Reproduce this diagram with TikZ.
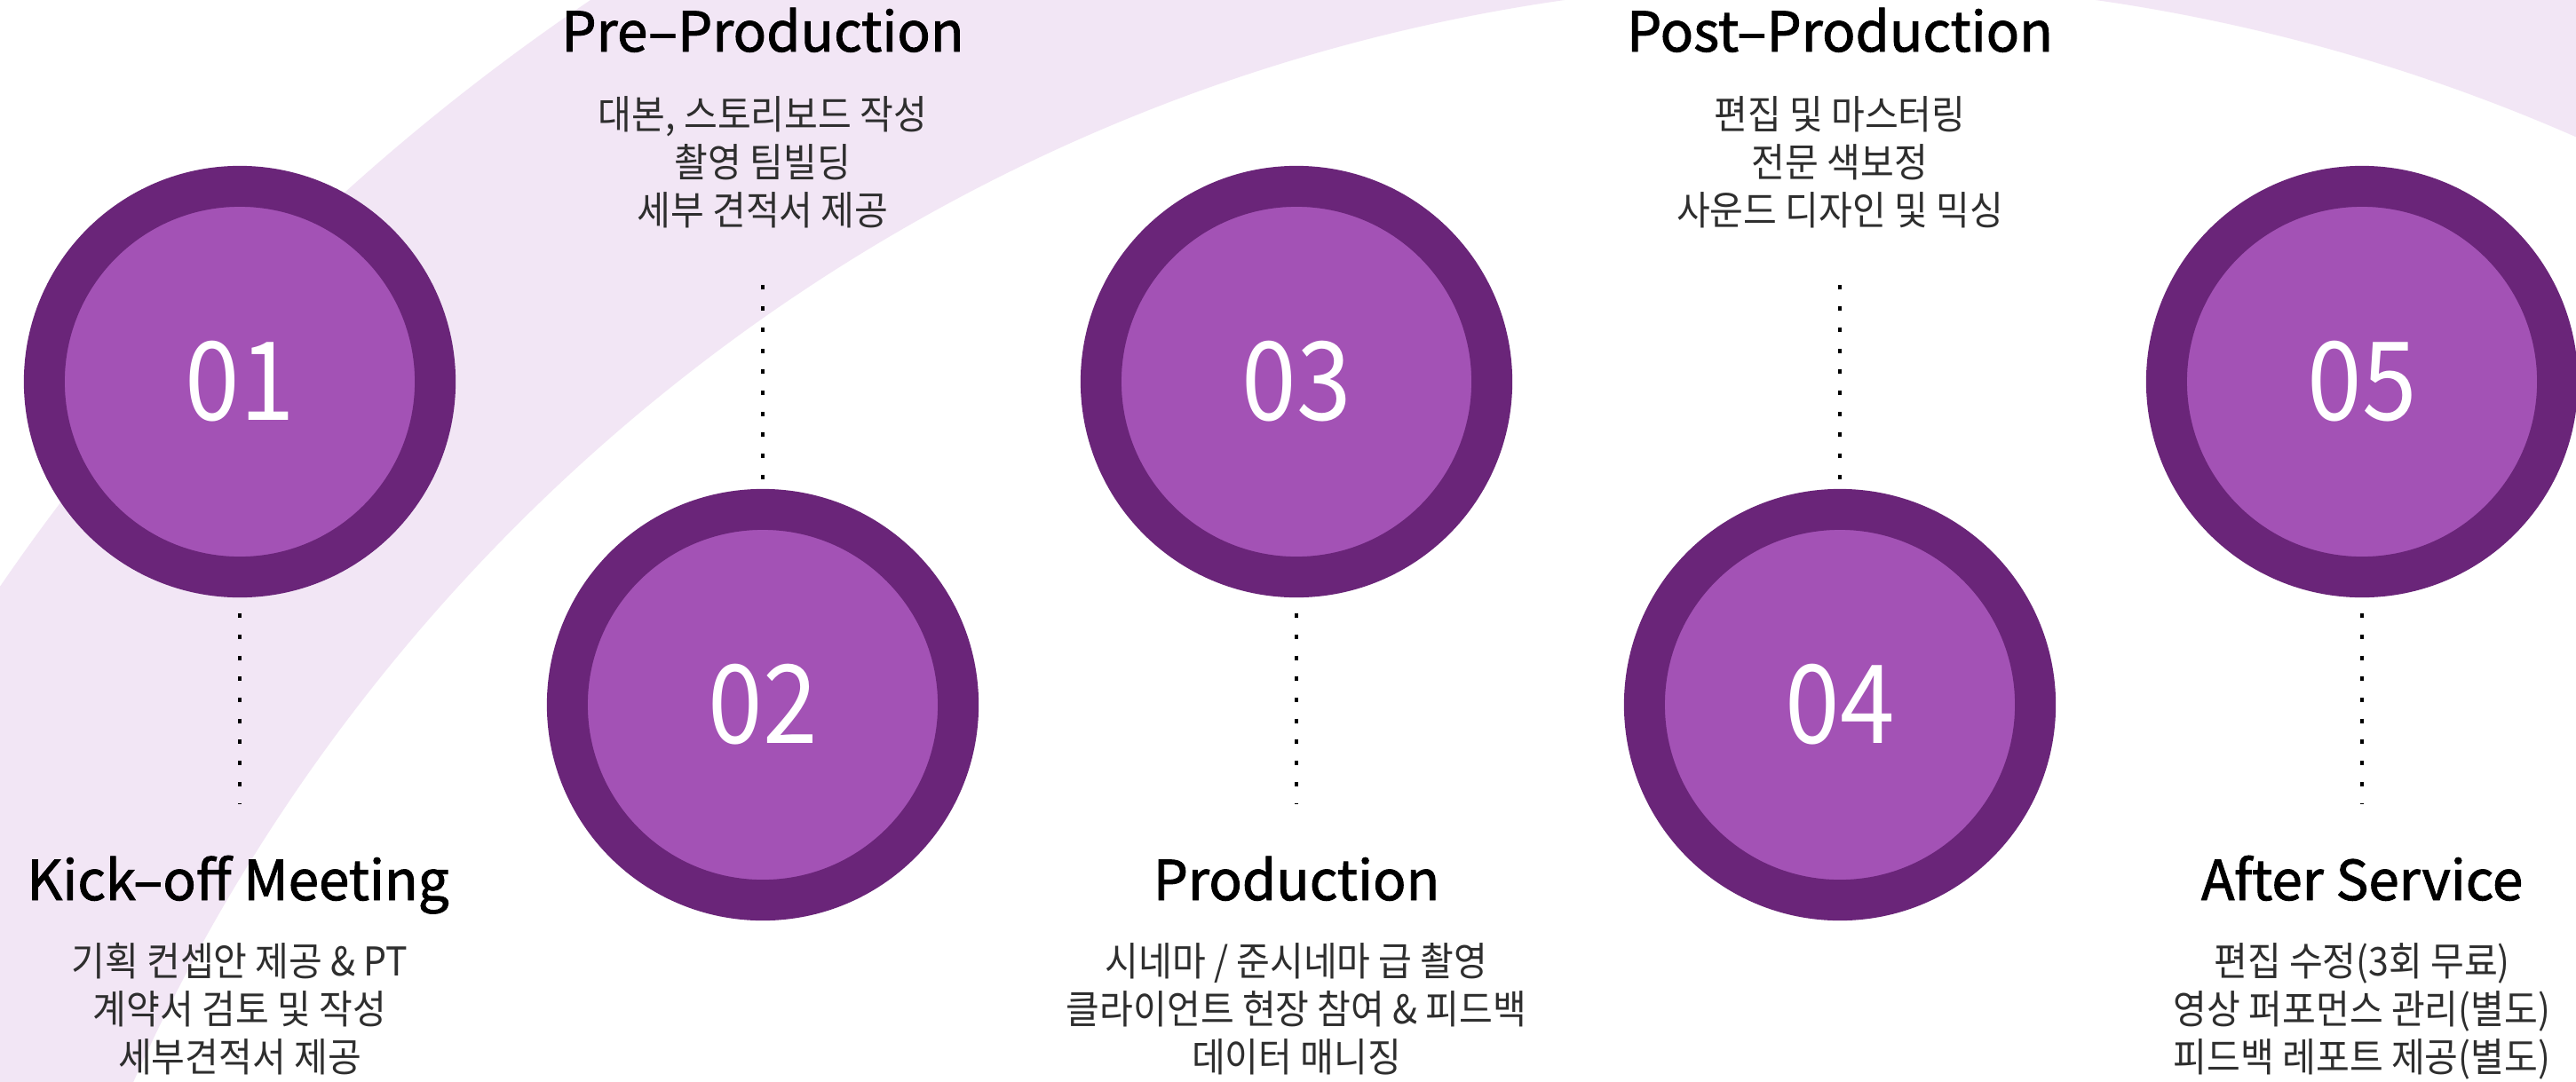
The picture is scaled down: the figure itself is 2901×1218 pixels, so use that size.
\documentclass[tikz,border=0pt]{standalone}
\usepackage{fontspec}
\newfontfamily\krsub[FakeStretch=0.92]{Noto Sans CJK KR}
\newfontfamily\krtitle[FakeBold=1.5]{Noto Sans CJK KR}
\newfontfamily\krnum[FakeStretch=0.9]{Noto Sans CJK KR}
\usetikzlibrary{calc}
\definecolor{bandc}{HTML}{F2E6F5}
\definecolor{ringc}{HTML}{6A2579}
\definecolor{innerc}{HTML}{A352B5}
\definecolor{subc}{HTML}{2E2E2E}
\tikzset{
  stepcircle/.style={circle, draw=ringc, line width=0.46cm, fill=innerc,
    minimum size=4.40cm, inner sep=0pt, text=white,
    font=\krnum\fontsize{35}{40}\selectfont},
  steptitle/.style={anchor=base, inner sep=0pt, text=black,
    font=\krtitle\fontsize{17.6}{20}\selectfont},
  stepline/.style={anchor=base, inner sep=0pt, text=subc,
    font=\krsub\fontsize{12.7}{15}\selectfont},
  dotline/.style={draw=black, line width=0.035cm, dash pattern=on 0.05cm off 0.187cm}
}
\begin{document}
\begin{tikzpicture}[x=0.01cm, y=-0.01cm]
\useasboundingbox (0,0) rectangle (2901,1218);
\fill[white] (0,0) rectangle (2901,1218);
\begin{scope}
  \clip (0,0) rectangle (2901,1218);
  \fill[bandc, even odd rule] (2061,2070) circle[radius=24.95cm] (2061,2070) circle[radius=20.90cm];
\end{scope}

% circles
\node[stepcircle] (c1) at (270,430) {01};
\node[stepcircle] (c2) at (859,794) {02};
\node[stepcircle] (c3) at (1460,430) {03};
\node[stepcircle] (c4) at (2072,794) {04};
\node[stepcircle] (c5) at (2660,430) {05};

% bottom groups
\node[steptitle] (t1) at (268,1014) {Kick–off Meeting};
\node[stepline] (s1a) at (270,1099) {기획 컨셉안 제공 \& PT};
\node[stepline] (s1b) at (270,1153) {계약서 검토 및 작성};
\node[stepline] (s1c) at (270,1207) {세부견적서 제공};

\node[steptitle] (t3) at (1460,1014) {Production};
\node[stepline] (s3a) at (1460,1099) {시네마 / 준시네마 급 촬영};
\node[stepline] (s3b) at (1460,1153) {클라이언트 현장 참여 \& 피드백};
\node[stepline] (s3c) at (1460,1207) {데이터 매니징};

\node[steptitle] (t5) at (2660,1014) {After Service};
\node[stepline] (s5a) at (2660,1099) {편집 수정(3회 무료)};
\node[stepline] (s5b) at (2660,1153) {영상 퍼포먼스 관리(별도)};
\node[stepline] (s5c) at (2660,1207) {피드백 레포트 제공(별도)};

% top groups
\node[steptitle] (t2) at (859,58) {Pre–Production};
\node[stepline] (s2a) at (859,145) {대본, 스토리보드 작성};
\node[stepline] (s2b) at (859,199) {촬영 팀빌딩};
\node[stepline] (s2c) at (859,253) {세부 견적서 제공};

\node[steptitle] (t4) at (2072,58) {Post–Production};
\node[stepline] (s4a) at (2072,145) {편집 및 마스터링};
\node[stepline] (s4b) at (2072,199) {전문 색보정};
\node[stepline] (s4c) at (2072,253) {사운드 디자인 및 믹싱};

% dotted connectors
\coordinate (e1) at (270,906);
\coordinate (e3) at (1460,906);
\coordinate (e5) at (2660,906);
\coordinate (e2) at (859,306);
\coordinate (e4) at (2072,306);
\draw[dotline] ([yshift=-0.18cm]c1.south) -- (e1);
\draw[dotline] ([yshift=-0.18cm]c3.south) -- (e3);
\draw[dotline] ([yshift=-0.18cm]c5.south) -- (e5);
\draw[dotline] ([yshift=0.11cm]c2.north) -- (e2);
\draw[dotline] ([yshift=0.11cm]c4.north) -- (e4);
\end{tikzpicture}
\end{document}
